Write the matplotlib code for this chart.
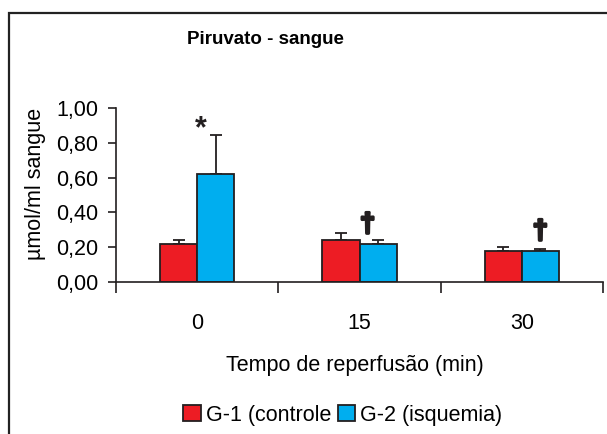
import matplotlib
matplotlib.use("Agg")
import matplotlib.pyplot as plt
import matplotlib.patches as mpatches
import matplotlib.patheffects as pe
import numpy as np

plt.rcParams['font.family'] = ['Liberation Sans', 'DejaVu Sans']

categories = ["0", "15", "30"]
g1_values = [0.218, 0.241, 0.178]
g1_err = [0.022, 0.039, 0.022]
g2_values = [0.620, 0.218, 0.178]
g2_err = [0.225, 0.022, 0.012]
series_labels = ["G-1 (controle", "G-2 (isquemia)"]
ytick_values = [0.0, 0.2, 0.4, 0.6, 0.8, 1.0]
ytick_labels = ["0,00", "0,20", "0,40", "0,60", "0,80", "1,00"]
marks = ["*", "\u2020", "\u2020"]

W, H = 607, 434
fig = plt.figure(figsize=(W / 100, H / 100), dpi=100)
ax = fig.add_axes([116 / W, 1 - 282 / H, 487 / W, 174 / H])

x = np.arange(len(categories))
bw = 0.228
red = "#ED1C24"
blue = "#00AEEF"
edge = "#231F20"
ekw = dict(ecolor=edge, elinewidth=1.3, capsize=4, capthick=1.3)

b1 = ax.bar(x - bw / 2, g1_values, bw, color=red, edgecolor=edge, linewidth=1.3,
            label=series_labels[0], zorder=2)
b2 = ax.bar(x + bw / 2, g2_values, bw, color=blue, edgecolor=edge, linewidth=1.3,
            label=series_labels[1], zorder=2)
ax.errorbar(x - bw / 2, g1_values, yerr=[np.zeros(3), g1_err], fmt="none", zorder=1, **ekw)
ax.errorbar(x + bw / 2, g2_values, yerr=[np.zeros(3), g2_err], fmt="none", zorder=1, **ekw)

# significance marks
thick = [pe.withStroke(linewidth=2.2, foreground=edge)]
ax.text(0.02, 0.88, marks[0], ha="center", va="center", fontsize=22, fontweight="bold", color=edge)
ax.text(1.05, 0.33, marks[1], ha="center", va="center", fontsize=19, fontweight="bold", color=edge,
        path_effects=thick)
ax.text(2.114, 0.29, marks[2], ha="center", va="center", fontsize=19, fontweight="bold", color=edge,
        path_effects=thick)

ax.set_xlim(-0.5, 2.5)
ax.set_ylim(0, 1.0)
for s in ["top", "right"]:
    ax.spines[s].set_visible(False)
for s in ["left", "bottom"]:
    ax.spines[s].set_color(edge)
    ax.spines[s].set_linewidth(1.2)

ax.set_yticks(ytick_values)
ax.set_yticklabels(ytick_labels, fontsize=15.5)
ax.tick_params(axis="y", direction="out", length=6, width=1.2, color=edge, pad=7)

ax.set_xticks([-0.5, 0.5, 1.5, 2.5])
ax.set_xticklabels([])
ax.tick_params(axis="x", which="major", direction="out", length=8, width=1.2, color=edge)
ax.set_xticks(x, minor=True)
ax.set_xticklabels(categories, minor=True, fontsize=15.5)
ax.tick_params(axis="x", which="minor", length=0, pad=22)

fig.text(36 / W, 1 - 184 / H, "\u00b5mol/ml sangue", rotation=90, ha="center", va="center", fontsize=15.5)
fig.text(265 / W, 1 - 40 / H, "Piruvato - sangue", ha="center", va="center", fontsize=13.5, fontweight="bold")
fig.text(355 / W, 1 - 365 / H, "Tempo de reperfus\u00e3o (min)", ha="center", va="center", fontsize=15.5)

fig.legend(handles=[b1, b2], labels=series_labels, loc="center", bbox_to_anchor=(343 / W, 1 - 415 / H),
           ncol=2, frameon=False, fontsize=15.5, handlelength=0.8, handleheight=0.8,
           handletextpad=0.25, columnspacing=0.3, borderpad=0)

frame = mpatches.Rectangle((9 / W, -0.2), 2, 1.2 - 12.5 / H, transform=fig.transFigure,
                           fill=False, edgecolor="#222222", linewidth=1.6, clip_on=False)
fig.patches.append(frame)

fig.savefig("out.png", dpi=100, facecolor="white")
